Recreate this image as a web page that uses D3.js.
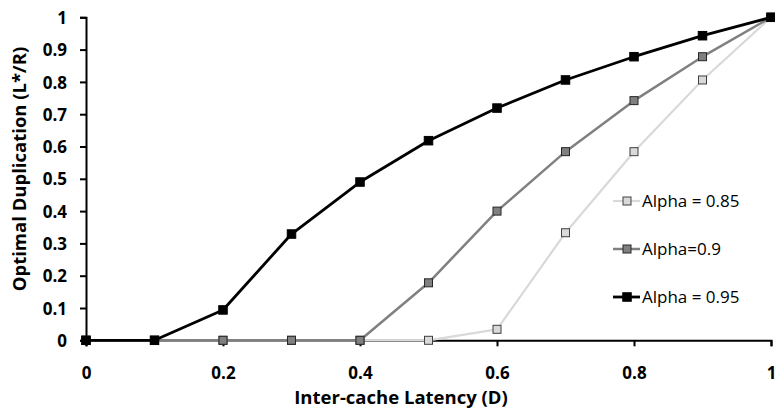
<!DOCTYPE html>
<html><head><meta charset="utf-8">
<script src="https://cdn.jsdelivr.net/npm/d3@7"></script>
<style>body{margin:0;background:#fff}svg{display:block}</style>
</head><body>
<script>
const xValues = [0, 0.1, 0.2, 0.3, 0.4, 0.5, 0.6, 0.7, 0.8, 0.9, 1];
const alpha085 = [0, 0, 0, 0, 0, 0, 0.034, 0.333, 0.584, 0.806, 1];
const alpha090 = [0, 0, 0, 0, 0, 0.178, 0.40, 0.584, 0.742, 0.878, 1];
const alpha095 = [0, 0, 0.094, 0.329, 0.49, 0.618, 0.719, 0.806, 0.878, 0.943, 1];
const seriesNames = ["Alpha = 0.85", "Alpha=0.9", "Alpha = 0.95"];
const xTicks = [0, 0.2, 0.4, 0.6, 0.8, 1];
const yTicks = [0, 0.1, 0.2, 0.3, 0.4, 0.5, 0.6, 0.7, 0.8, 0.9, 1];

const W = 775, H = 409;
const svg = d3.select("body").append("svg").attr("width", W).attr("height", H);
const x = d3.scaleLinear().domain([0, 1]).range([86, 771]);
const y = d3.scaleLinear().domain([0, 1]).range([340.3, 17.3]);
const fontBold = "'Open Sans', sans-serif";

const styles = [
  {line: "#d9d9d9", fill: "#d9d9d9", stroke: "#404040", lw: 2.2, ms: 8},
  {line: "#808080", fill: "#808080", stroke: "#262626", lw: 2.5, ms: 8},
  {line: "#000000", fill: "#000000", stroke: "#000000", lw: 2.8, ms: 8.5}
];
const series = [alpha085, alpha090, alpha095];

// axes
const xAxis = svg.append("g").attr("transform", `translate(0,${y(0)})`)
  .call(d3.axisBottom(x).tickValues(xTicks).tickSize(6).tickFormat(d3.format("~g")));
xAxis.select(".domain").attr("stroke", "#000").attr("stroke-width", 2);
xAxis.selectAll(".tick line").attr("stroke", "#000").attr("stroke-width", 2);
xAxis.selectAll("text").attr("dy", 0).attr("y", 39)
  .style("font-family", fontBold).style("font-weight", "bold").style("font-size", "17px").attr("fill", "#000");

const yAxis = svg.append("g").attr("transform", `translate(${x(0)},0)`)
  .call(d3.axisLeft(y).tickValues(yTicks).tickSize(6).tickFormat(d3.format("~g")));
yAxis.select(".domain").attr("stroke", "#000").attr("stroke-width", 2);
yAxis.selectAll(".tick line").attr("stroke", "#000").attr("stroke-width", 2);
yAxis.selectAll("text").attr("x", -19).attr("dy", "0.36em")
  .style("font-family", fontBold).style("font-weight", "bold").style("font-size", "17px").attr("fill", "#000");

// titles
svg.append("text").attr("x", 401).attr("y", 404).attr("text-anchor", "middle")
  .style("font-family", fontBold).style("font-weight", "bold").style("font-size", "18.5px").text("Inter-cache Latency (D)");
svg.append("text").attr("transform", "translate(26,169) rotate(-90)").attr("text-anchor", "middle")
  .style("font-family", fontBold).style("font-weight", "bold").style("font-size", "18.5px").text("Optimal Duplication (L*/R)");

// series
const line = d3.line().x((d, i) => x(xValues[i])).y(d => y(d));
series.forEach((s, k) => {
  const st = styles[k];
  const g = svg.append("g");
  g.append("path").datum(s).attr("d", line).attr("fill", "none")
    .attr("stroke", st.line).attr("stroke-width", st.lw).attr("stroke-linejoin", "round");
  g.selectAll("rect").data(s).join("rect")
    .attr("x", (d, i) => x(xValues[i]) - st.ms / 2).attr("y", d => y(d) - st.ms / 2)
    .attr("width", st.ms).attr("height", st.ms)
    .attr("fill", st.fill).attr("stroke", st.stroke).attr("stroke-width", 1);
});

// legend
const legY = [201, 249, 297];
seriesNames.forEach((name, k) => {
  const st = styles[k];
  const g = svg.append("g").attr("transform", `translate(0,${legY[k]})`);
  g.append("line").attr("x1", 613).attr("x2", 640).attr("y1", 0).attr("y2", 0)
    .attr("stroke", st.line).attr("stroke-width", st.lw);
  g.append("rect").attr("x", 627 - st.ms / 2).attr("y", -st.ms / 2).attr("width", st.ms).attr("height", st.ms)
    .attr("fill", st.fill).attr("stroke", st.stroke).attr("stroke-width", 1);
  g.append("text").attr("x", 642).attr("y", 0).attr("dy", "0.35em")
    .style("font-family", "'Open Sans', sans-serif").style("font-size", "17px").attr("fill", "#000").text(name);
});
</script>
</body></html>
